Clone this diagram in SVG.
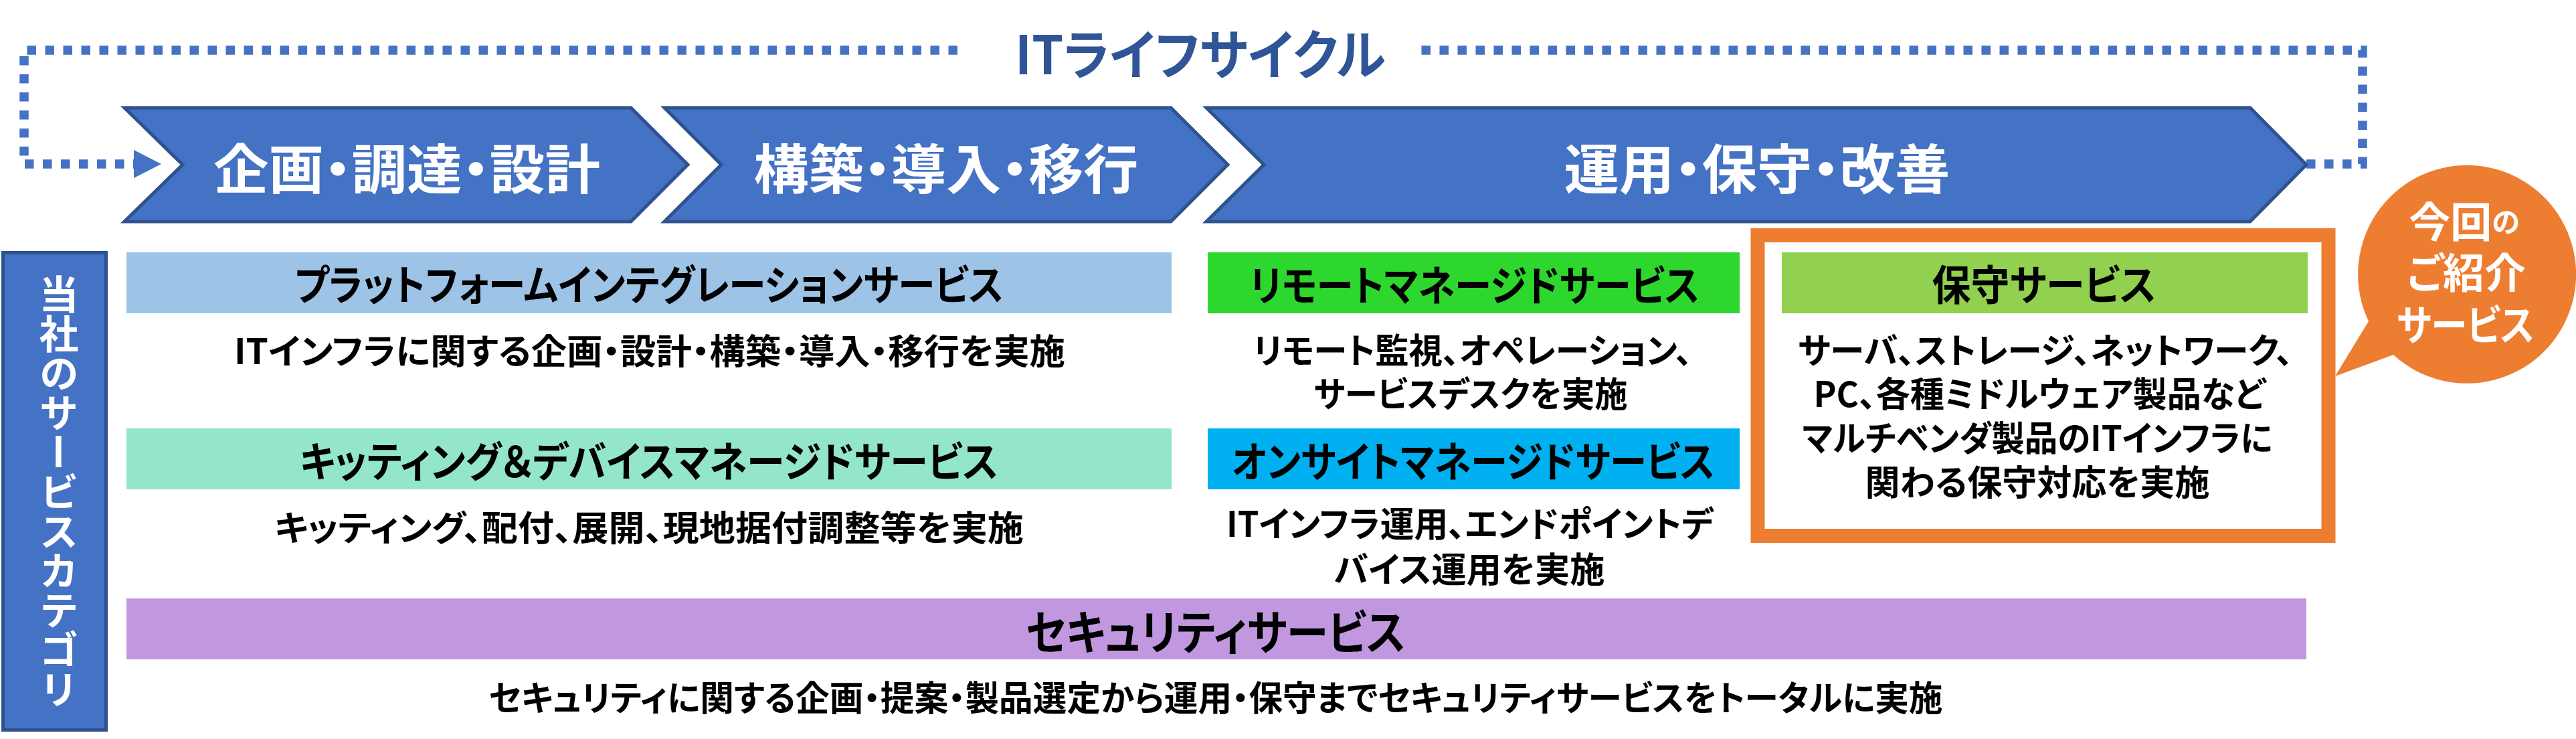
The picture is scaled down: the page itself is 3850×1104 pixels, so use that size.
<svg xmlns="http://www.w3.org/2000/svg" width="3850" height="1104" viewBox="0 0 3850 1104">
<defs>
<style>
text{font-family:"Noto Sans CJK JP","Noto Sans",sans-serif;font-weight:700;dominant-baseline:central;text-anchor:middle;font-feature-settings:"palt"}
.chev{fill:#4472C4;stroke:#2F528F;stroke-width:5;stroke-linejoin:miter}
.wt{fill:#FFFFFF}
.bk{fill:#000000}
.h{font-size:62px}
.d{font-size:52px}
.dot{fill:none;stroke:#4472C4;stroke-width:13.5;stroke-dasharray:13.5 13.5}
</style>
<marker id="tri" markerWidth="42" markerHeight="42" refX="0" refY="21" orient="auto" markerUnits="userSpaceOnUse">
<path d="M0,0 L41,21 L0,42 Z" fill="#4472C4"/>
</marker>
</defs>
<rect width="3850" height="1104" fill="#FFFFFF"/>

<g id="connectors">
<path class="dot" d="M3447,245 H3531 V75 H2121"/>
<path class="dot" d="M1431,75 H36 V245 H200" marker-end="url(#tri)"/>
</g>

<g id="title">
<text x="1794" y="76" font-size="80" fill="#2F5597" textLength="554" lengthAdjust="spacingAndGlyphs">ITライフサイクル</text>
</g>

<g id="phase-plan">
<polygon class="chev" points="186,161 943,161 1028,246 943,331 186,331 273,246"/>
<text class="wt" x="608" y="247" font-size="80" textLength="578" lengthAdjust="spacingAndGlyphs">企画・調達・設計</text>
</g>
<g id="phase-build">
<polygon class="chev" points="993,161 1750,161 1835,246 1750,331 993,331 1078,246"/>
<text class="wt" x="1414" y="247" font-size="80" textLength="575" lengthAdjust="spacingAndGlyphs">構築・導入・移行</text>
</g>
<g id="phase-operate">
<polygon class="chev" points="1803,161 3363,161 3447,246 3363,331 1803,331 1889,246"/>
<text class="wt" x="2626" y="247" font-size="80" textLength="577" lengthAdjust="spacingAndGlyphs">運用・保守・改善</text>
</g>

<g id="category-label">
<rect x="4.5" y="377.5" width="154" height="713" fill="#4472C4" stroke="#2F528F" stroke-width="5"/>
<text class="wt" x="88" y="735" font-size="59" writing-mode="vertical-rl" style="writing-mode:vertical-rl;text-orientation:upright">当社のサービスカテゴリ</text>
</g>

<g id="svc-platform">
<rect x="189" y="377" width="1562" height="91" fill="#9DC3E6"/>
<text class="bk h" x="970" y="422" textLength="1060" lengthAdjust="spacingAndGlyphs">プラットフォームインテグレーションサービス</text>
<text class="bk d" x="971" y="521" textLength="1242" lengthAdjust="spacingAndGlyphs">ITインフラに関する企画・設計・構築・導入・移行を実施</text>
</g>

<g id="svc-kitting">
<rect x="189" y="640" width="1562" height="91" fill="#93E6C9"/>
<text class="bk h" x="970" y="686" textLength="1044" lengthAdjust="spacingAndGlyphs">キッティング＆デバイスマネージドサービス</text>
<text class="bk d" x="970" y="785" textLength="1120" lengthAdjust="spacingAndGlyphs">キッティング、配付、展開、現地据付調整等を実施</text>
</g>

<g id="svc-remote">
<rect x="1805" y="377" width="795" height="91" fill="#2DD72D"/>
<text class="bk h" x="2204" y="423" textLength="672" lengthAdjust="spacingAndGlyphs">リモートマネージドサービス</text>
<text class="bk d" x="1873" y="520" style="text-anchor:start" textLength="656" lengthAdjust="spacingAndGlyphs">リモート監視、オペレーション、</text>
<text class="bk d" x="2198" y="585" textLength="469" lengthAdjust="spacingAndGlyphs">サービスデスクを実施</text>
</g>

<g id="svc-onsite">
<rect x="1805" y="640" width="795" height="91" fill="#00B0F0"/>
<text class="bk h" x="2202" y="686" textLength="722" lengthAdjust="spacingAndGlyphs">オンサイトマネージドサービス</text>
<text class="bk d" x="2197" y="779" textLength="728" lengthAdjust="spacingAndGlyphs">ITインフラ運用、エンドポイントデ</text>
<text class="bk d" x="2196" y="847" textLength="405" lengthAdjust="spacingAndGlyphs">バイス運用を実施</text>
</g>

<g id="svc-maintenance">
<rect x="2627" y="351.5" width="853" height="449" fill="#FFFFFF" stroke="#ED7D31" stroke-width="21"/>
<rect x="2663" y="377" width="786" height="91" fill="#92D050"/>
<text class="bk h" x="3055" y="422" textLength="335" lengthAdjust="spacingAndGlyphs">保守サービス</text>
<text class="bk d" x="2687" y="520" style="text-anchor:start" textLength="740" lengthAdjust="spacingAndGlyphs">サーバ、ストレージ、ネットワーク、</text>
<text class="bk d" x="3048" y="585" textLength="675" lengthAdjust="spacingAndGlyphs">PC、各種ミドルウェア製品など</text>
<text class="bk d" x="3045" y="651" textLength="703" lengthAdjust="spacingAndGlyphs">マルチベンダ製品のITインフラに</text>
<text class="bk d" x="3045" y="717" textLength="515" lengthAdjust="spacingAndGlyphs">関わる保守対応を実施</text>
</g>

<g id="svc-security">
<rect x="189" y="894" width="3258" height="91" fill="#C198E0"/>
<text class="bk" x="1817" y="940" font-size="70" textLength="568" lengthAdjust="spacingAndGlyphs">セキュリティサービス</text>
<text class="bk d" x="1817" y="1039" textLength="2173" lengthAdjust="spacingAndGlyphs">セキュリティに関する企画・提案・製品選定から運用・保守までセキュリティサービスをトータルに実施</text>
</g>

<g id="callout">
<path d="M3540,480 L3490,562 L3577,530 A163,163 0 1 0 3540,480 Z" fill="#ED7D31"/>
<text class="wt" x="3683" y="328" font-size="62">今回<tspan font-size="42">の</tspan></text>
<text class="wt" x="3686" y="404" font-size="62" textLength="178" lengthAdjust="spacingAndGlyphs">ご紹介</text>
<text class="wt" x="3685" y="482" font-size="62" textLength="206" lengthAdjust="spacingAndGlyphs">サービス</text>
</g>
</svg>
